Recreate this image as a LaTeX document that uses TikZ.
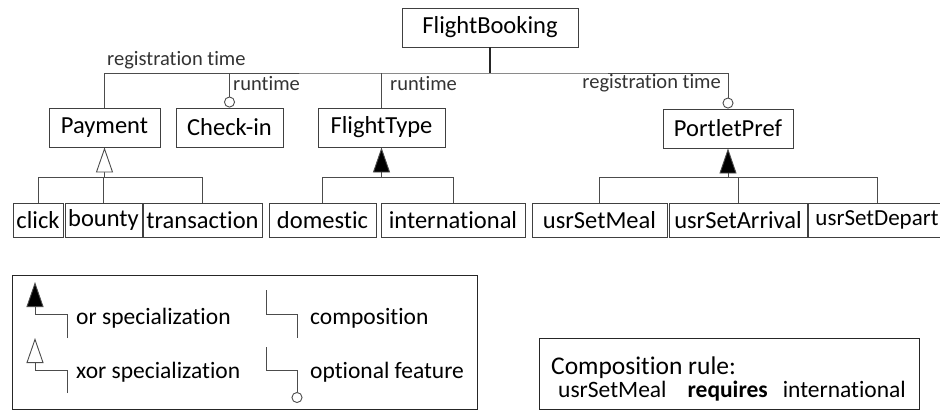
\documentclass[tikz,border=0pt]{standalone}
\usepackage{fontspec}
\setmainfont{Carlito}[Ligatures=NoCommon]
\usetikzlibrary{arrows.meta}

\begin{document}
\begin{tikzpicture}[x=1pt, y=-1pt,
    feat/.style={draw=black!75, line width=0.9pt, minimum height=39pt,
                 inner sep=0pt, font=\fontsize{24.5}{28}\selectfont},
    sub/.style={feat, minimum height=34pt},
    conn/.style={draw=black!70, line width=0.9pt},
    tag/.style={inner sep=0pt, text=black!80, font=\fontsize{20.5}{24}\selectfont},
    note/.style={inner sep=0pt, font=\fontsize{23.5}{28}\selectfont},
    frame/.style={draw=black!85, line width=0.9pt, inner sep=0pt},
    orspec/.style={-{Triangle[length=25pt, width=17pt, fill=black]}},
    xorspec/.style={-{Triangle[length=25pt, width=17pt, fill=white]}},
    optional/.style={-{Circle[length=11pt, fill=white]}}
]
\useasboundingbox (0,0) rectangle (940,410);

% features
\node[feat, minimum width=176pt] (fb) at (490,27.5) {FlightBooking};
\node[feat, minimum width=111pt] (pay) at (104.5,127.5) {Payment};
\node[feat, minimum width=107pt] (chk) at (229.5,127.5) {Check-in};
\node[feat, minimum width=127pt] (ft) at (381.5,127.5) {FlightType};
\node[feat, minimum width=130pt] (pp) at (728,128.5) {PortletPref};

\node[sub, minimum width=50pt] (click) at (38,220) {click};
\node[sub, minimum width=77pt] (bounty) at (103.5,220) {bounty};
\node[sub, minimum width=119pt] (trans) at (202.5,220) {transaction};
\node[sub, minimum width=107pt] (dom) at (322.5,220) {domestic};
\node[sub, minimum width=144pt] (intl) at (453,220) {international};
\node[sub, minimum width=135pt] (meal) at (599.5,220) {usrSetMeal};
\node[sub, minimum width=138pt] (arr) at (738,220) {usrSetArrival};
\node[sub, minimum width=138pt, font=\fontsize{23}{28}\selectfont] (dep) at (877,220) {usrSetDepart};

% composition bus
\coordinate (bus) at (490,73);
\draw[conn, line width=2pt, draw=black!85] (fb.south) -- (bus);
\draw[conn, optional] (pay.north) |- (bus) -| (pp.north);
\draw[conn, optional] (chk.north |- bus) -- (chk.north);
\draw[conn] (ft.north |- bus) -- (ft.north);

\node[tag, anchor=base west] (regl) at (107,65) {registration time};
\node[tag, anchor=base west] (rtchk) at (233,90) {runtime};
\node[tag, anchor=base west] (rtft) at (390,90) {runtime};
\node[tag, anchor=base east] (regr) at (721,88) {registration time};

% specializations
\coordinate (payj) at ([yshift=-30pt]pay.south);
\draw[conn] (click.north) |- (payj) -| (trans.north);
\draw[conn] (bounty.north) -- (bounty.north |- payj);
\draw[conn, xorspec] (payj) -- (pay.south);

\coordinate (ftj) at ([yshift=-30pt]ft.south);
\draw[conn] (dom.north) |- (ftj) -| (intl.north);
\draw[conn, orspec] (ftj) -- (ft.south);

\coordinate (ppj) at ([yshift=-29pt]pp.south);
\draw[conn] (meal.north) |- (ppj) -| (dep.north);
\draw[conn] (arr.north) -- (arr.north |- ppj);
\draw[conn, orspec] (ppj) -- (pp.south);

% legend
\node[frame, minimum width=465pt, minimum height=134pt] (legend) at (244.5,342) {};
\draw[conn, orspec] (67,338) -- (67,314) -- (35,314) -- (35,282);
\draw[conn, xorspec] (67,393) -- (67,370) -- (35,370) -- (35,338);
\draw[conn] (266,290) -- (266,314) -- (297,314) -- (297,338);
\draw[conn, optional] (266,347) -- (266,370) -- (297,370) -- (297,403);
\node[note, anchor=base west] (lor) at (76,324) {or specialization};
\node[note, anchor=base west] (lxor) at (76,378) {xor specialization};
\node[note, anchor=base west] (lcomp) at (310,324) {composition};
\node[note, anchor=base west] (lopt) at (310,378) {optional feature};

% composition rule
\node[frame, minimum width=380pt, minimum height=71pt] (rule) at (729,373.5) {};
\node[inner sep=0pt, anchor=base west, font=\fontsize{25.5}{30}\selectfont] (rhead) at (551,374) {Composition rule:};
\node[note, anchor=base west] (rbody) at (558,397)
    {usrSetMeal\hspace{21pt}\textbf{requires}\hspace{15pt}international};
\end{tikzpicture}
\end{document}
